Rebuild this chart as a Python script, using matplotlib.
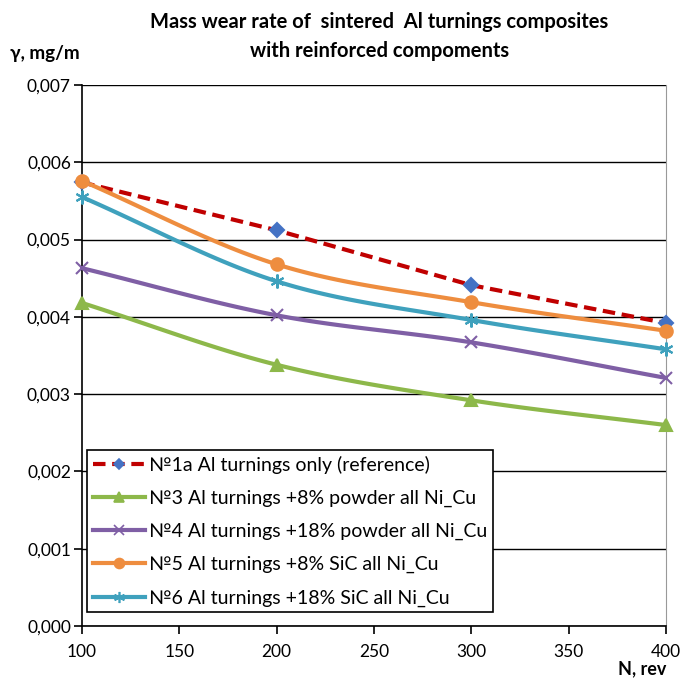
import numpy as np
import matplotlib
matplotlib.use("Agg")
import matplotlib.pyplot as plt
from matplotlib.ticker import FuncFormatter, MultipleLocator

plt.rcParams['font.family'] = ['Lato', 'DejaVu Sans']

revs = [100, 200, 300, 400]
s1a = [0.00574, 0.00512, 0.00441, 0.00392]
s3 = [0.00418, 0.00338, 0.00292, 0.00260]
s4 = [0.00463, 0.00402, 0.00367, 0.00321]
s5 = [0.00576, 0.00468, 0.00419, 0.00382]
s6 = [0.00555, 0.00446, 0.00396, 0.00358]

labels = [
    "№1a Al turnings only (reference)",
    "№3 Al turnings +8% powder all Ni_Cu",
    "№4 Al turnings +18% powder all Ni_Cu",
    "№5 Al turnings +8% SiC all Ni_Cu",
    "№6 Al turnings +18% SiC all Ni_Cu",
]


def smooth(x, y, n=30):
    """Catmull-Rom style curve through the points (like spreadsheet smoothed lines)."""
    x = np.asarray(x, float)
    y = np.asarray(y, float)
    px = np.concatenate([[2 * x[0] - x[1]], x, [2 * x[-1] - x[-2]]])
    py = np.concatenate([[2 * y[0] - y[1]], y, [2 * y[-1] - y[-2]]])
    xs, ys = [], []
    t = np.linspace(0, 1, n)
    for i in range(1, len(px) - 2):
        p0, p1, p2, p3 = [np.array([px[j], py[j]]) for j in range(i - 1, i + 3)]
        b1 = p1 + (p2 - p0) / 6
        b2 = p2 - (p3 - p1) / 6
        pts = ((1 - t) ** 3)[:, None] * p1 + (3 * (1 - t) ** 2 * t)[:, None] * b1 \
            + (3 * (1 - t) * t ** 2)[:, None] * b2 + (t ** 3)[:, None] * p2
        xs.extend(pts[:, 0])
        ys.extend(pts[:, 1])
    return np.array(xs), np.array(ys)


fig = plt.figure(figsize=(6.8, 6.8), dpi=100)
ax = fig.add_axes([0.1206, 0.0794, 0.8588, 0.7956])

styles = [
    dict(data=s1a, color="#c00000", ls=(0, (3, 1.6)), marker="D", mfc="#4472c4", mec="#4472c4", ms=7, smooth=False),
    dict(data=s3, color="#8db84a", ls="-", marker="^", mfc="#8db84a", mec="#8db84a", ms=9, smooth=True),
    dict(data=s4, color="#7f5fa5", ls="-", marker="x", mfc="#7f5fa5", mec="#7f5fa5", ms=9, smooth=True),
    dict(data=s5, color="#ee8d3f", ls="-", marker="o", mfc="#ee8d3f", mec="#ee8d3f", ms=9, smooth=True),
    dict(data=s6, color="#3fa1bd", ls="-", marker=(6, 2, 0), mfc="#3fa1bd", mec="#3fa1bd", ms=10, smooth=True),
]

draw_order = [1, 2, 4, 3, 0]
handles = [None] * 5
for i in draw_order:
    st = styles[i]
    if st["smooth"]:
        xs, ys = smooth(revs, st["data"])
    else:
        xs, ys = np.array(revs), np.array(st["data"])
    ax.plot(xs, ys, color=st["color"], ls=st["ls"], lw=3, zorder=3 + i * 0.1, solid_capstyle="butt")
    ax.plot(revs, st["data"], ls="none", marker=st["marker"], mfc=st["mfc"], mec=st["mec"],
            ms=st["ms"], mew=1.5, zorder=4 + i * 0.1, clip_on=False)
    handles[i] = plt.Line2D([], [], color=st["color"], ls=st["ls"], lw=3, marker=st["marker"],
                            mfc=st["mfc"], mec=st["mec"], ms=st["ms"] * 0.8, mew=1.2)

ax.set_xlim(100, 400)
ax.set_ylim(0, 0.007)
ax.xaxis.set_major_locator(MultipleLocator(50))
ax.yaxis.set_major_locator(MultipleLocator(0.001))
ax.yaxis.set_major_formatter(FuncFormatter(lambda v, p: f"{v:.3f}".replace(".", ",")))
ax.grid(axis="y", color="black", lw=1)
ax.set_axisbelow(True)
ax.spines["top"].set_visible(False)
ax.spines["right"].set_color("#999999")
ax.spines["left"].set_linewidth(1.2)
ax.spines["bottom"].set_linewidth(1.2)
ax.tick_params(axis="both", direction="out", length=6, width=1.2, labelsize=12.5, colors="black")
ax.tick_params(axis="x", pad=7)
ax.tick_params(axis="y", pad=2)

leg = ax.legend(handles, labels, loc="lower left", bbox_to_anchor=(0.008, 0.025), fontsize=14,
                frameon=True, fancybox=False, edgecolor="black", framealpha=1,
                handlelength=2.7, handletextpad=0.2, borderpad=0.3, labelspacing=0.82, borderaxespad=0)
leg.get_frame().set_linewidth(1.2)

fig.text(0.558, 0.968, "Mass wear rate of  sintered  Al turnings composites", ha="center", va="center",
         fontsize=14.5, fontweight="bold")
fig.text(0.558, 0.925, "with reinforced compoments", ha="center", va="center",
         fontsize=14.5, fontweight="bold")
fig.text(0.014, 0.922, "γ, mg/m", ha="left", va="center", fontsize=13.5, fontweight="bold")
fig.text(0.98, 0.004, "N, rev", ha="right", va="bottom", fontsize=13, fontweight="bold")

fig.savefig("out.png", dpi=100)
